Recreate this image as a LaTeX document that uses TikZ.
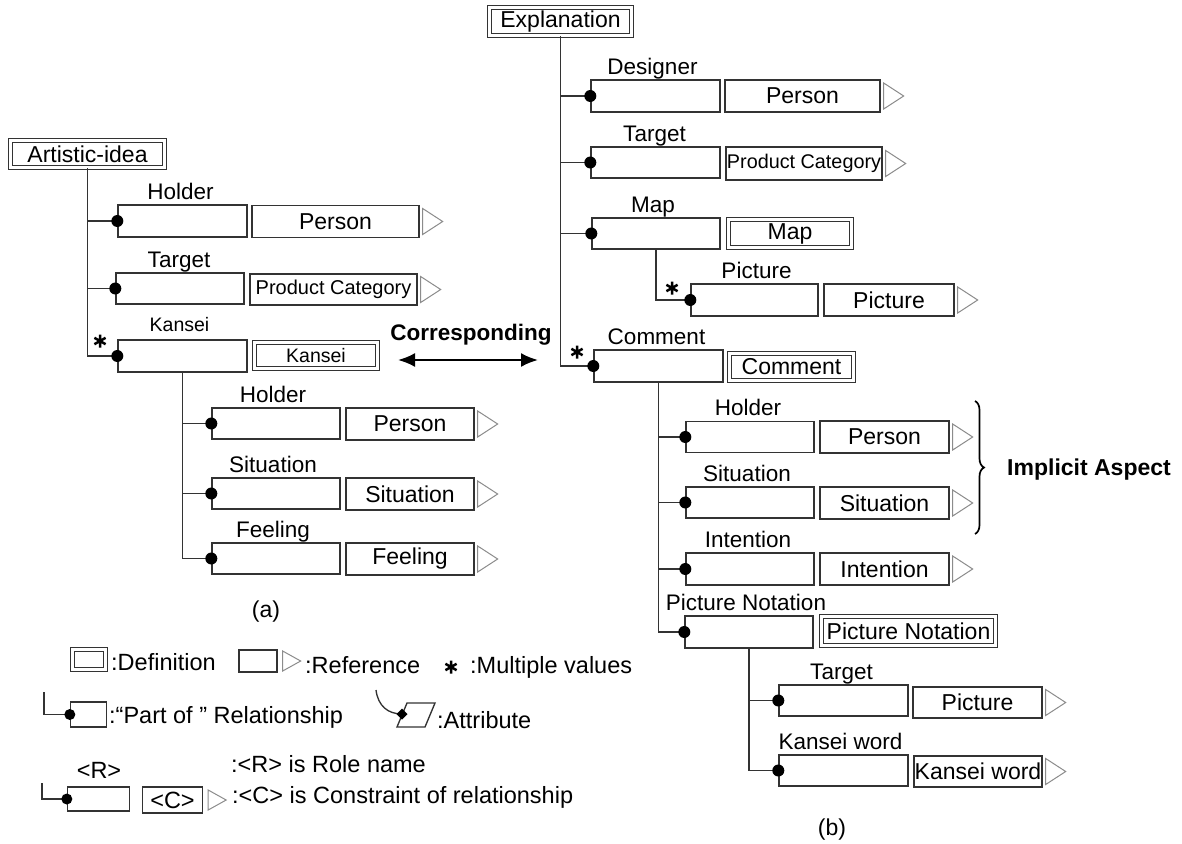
\documentclass[tikz,border=0pt]{standalone}
\usepackage{fontspec}
\setmainfont{Liberation Sans}
\usetikzlibrary{arrows.meta,decorations.pathreplacing}
\definecolor{linec}{HTML}{333333}
\definecolor{tric}{HTML}{8C8C8C}
\newcommand\tsz[1]{\fontsize{#1pt}{#1pt}\selectfont}

\begin{document}
\begin{tikzpicture}[x=1pt,y=-1pt,
  ln/.style={draw=linec, line width=1.35pt},
  rolebox/.style={ln, rectangle, inner sep=0pt, minimum width=129pt, minimum height=32pt},
  refbox/.style={ln, rectangle, inner sep=0pt, minimum height=32pt, font=\tsz{23}},
  defbox/.style={draw=linec, double, double distance=2.4pt, line width=1.3pt, rectangle,
                 inner sep=0pt, minimum height=28pt, font=\tsz{23}},
  rolelab/.style={anchor=base, inner sep=0pt, font=\tsz{22.5}},
  legtext/.style={anchor=west, inner sep=0pt, font=\tsz{23.5}},
  boldtext/.style={inner sep=0pt, font=\tsz{22.5}\bfseries},
  pdot/.style={fill=black},
  reftri/.pic={\draw[tric, line width=1pt] (3,-13) -- (23,0) -- (3,13) -- cycle;},
  reftrismall/.pic={\draw[tric, line width=1pt] (5,-10) -- (23,0) -- (5,10) -- cycle;},
  multi/.pic={\draw[black, line width=2.5pt] (0,-6.5) -- (0,6.5) (-5.6,-3.2) -- (5.6,3.2) (-5.6,3.2) -- (5.6,-3.2);},
]
\useasboundingbox (0,0) rectangle (1182,843);
\fill[white] (0,0) rectangle (1182,843);

% ---------------- (a) Artistic-idea ----------------
\node[defbox, minimum width=154pt, minimum height=27pt] (art) at (87.5,154) {Artistic-idea};

\node[rolebox] (r1) at (182.5,221) {};
\node[refbox, minimum width=167pt] (p1) at (335.5,221.5) {Person};
\node[rolelab] (l1) at ([xshift=-2pt,yshift=5pt]r1.north) {Holder};

\node[rolebox, minimum width=128pt, minimum height=31pt] (r2) at (180,288.5) {};
\node[refbox, minimum width=167pt, minimum height=31pt, font=\tsz{20}] (p2) at (333.5,289.5) {Product Category};
\node[rolelab] (l2) at ([xshift=-1pt,yshift=5pt]r2.north) {Target};

\node[rolebox] (r3) at (182.5,356) {};
\node[defbox, minimum width=123pt, minimum height=26pt, font=\tsz{19.5}] (k3) at (316,355.5) {Kansei};
\node[rolelab, font=\tsz{19.5}] (l3) at ([xshift=-3pt,yshift=8pt]r3.north) {Kansei};

\node[rolebox, minimum width=128pt, minimum height=31pt] (r4) at (276,423.5) {};
\node[refbox, minimum width=128pt] (p4) at (410,424) {Person};
\node[rolelab] (l4) at ([xshift=-3pt,yshift=5pt]r4.north) {Holder};

\node[rolebox, minimum width=128pt, minimum height=31pt] (r5) at (276,493.5) {};
\node[refbox, minimum width=128pt] (p5) at (410,494) {Situation};
\node[rolelab] (l5) at ([xshift=-3pt,yshift=5pt]r5.north) {Situation};

\node[rolebox, minimum width=128pt, minimum height=31pt] (r6) at (276,558.5) {};
\node[refbox, minimum width=128pt] (p6) at (410,559) {Feeling};
\node[rolelab] (l6) at ([xshift=-3pt,yshift=5pt]r6.north) {Feeling};

\foreach \p in {p1,p2,p4,p5,p6} \pic at (\p.east) {reftri};

\draw[ln] (art.south) |- (r1.west);
\draw[ln] (art.south) |- (r2.west);
\draw[ln] (art.south) |- (r3.west);
\draw[ln] (r3.south) |- (r4.west);
\draw[ln] (r3.south) |- (r5.west);
\draw[ln] (r3.south) |- (r6.west);
\foreach \r in {r1,r2,r3,r4,r5,r6} \fill[pdot] (\r.west) circle (6pt);
\pic at (100,341) {multi};

\node[inner sep=0pt, font=\tsz{23}] (capa) at (266,612) {(a)};

% ---------------- correspondence ----------------
\coordinate (ca) at (398,360);
\coordinate (cb) at (538,360);
\draw[black, line width=2.2pt, {Latex[length=17pt,width=14pt]}-{Latex[length=17pt,width=14pt]}] (ca) -- (cb);
\node[boldtext] (corr) at (471,335) {Corresponding};

% ---------------- (b) Explanation ----------------
\node[defbox, minimum width=142pt, minimum height=28pt] (ex) at (560.5,21.5) {Explanation};

\node[rolebox] (r7) at (655.5,96) {};
\node[refbox, minimum width=155pt] (p7) at (802.5,96) {Person};
\node[rolelab] (l7) at ([xshift=-3pt,yshift=5pt]r7.north) {Designer};

\node[rolebox, minimum height=31pt] (r8) at (655.5,162.5) {};
\node[refbox, minimum width=156pt, minimum height=33pt, font=\tsz{19.8}] (p8) at (804,163.5) {Product Category};
\node[rolelab] (l8) at ([xshift=-1pt,yshift=5pt]r8.north) {Target};

\node[rolebox, minimum width=128pt, minimum height=31pt] (r9) at (656,233.5) {};
\node[defbox, minimum width=123pt, minimum height=28pt] (m9) at (790,233.5) {Map};
\node[rolelab] (l9) at ([xshift=-3pt,yshift=5pt]r9.north) {Map};

\node[rolebox, minimum width=127pt] (r10) at (754.5,300) {};
\node[refbox, minimum width=130pt] (p10) at (889,300) {Picture};
\node[rolelab] (l10) at ([xshift=2pt,yshift=5pt]r10.north) {Picture};

\node[rolebox] (r11) at (658.5,366) {};
\node[defbox, minimum width=124pt, minimum height=27pt] (c11) at (791.5,367) {Comment};
\node[rolelab] (l11) at ([xshift=-2pt,yshift=5pt]r11.north) {Comment};

\node[rolebox, minimum width=128pt, minimum height=31pt] (r12) at (750,437) {};
\node[refbox, minimum width=129pt] (p12) at (884.5,437) {Person};
\node[rolelab] (l12) at ([xshift=-2pt,yshift=5pt]r12.north) {Holder};

\node[rolebox, minimum width=128pt, minimum height=31pt] (r13) at (750,502.5) {};
\node[refbox, minimum width=129pt] (p13) at (884.5,503) {Situation};
\node[rolelab] (l13) at ([xshift=-3pt,yshift=5pt]r13.north) {Situation};

\node[rolebox, minimum width=128pt] (r14) at (750,569) {};
\node[refbox, minimum width=129pt] (p14) at (884.5,569) {Intention};
\node[rolelab] (l14) at ([xshift=-2pt,yshift=5pt]r14.north) {Intention};

\node[rolebox, minimum width=128pt] (r15) at (749,632) {};
\node[defbox, minimum width=174pt, minimum height=29pt] (pn15) at (908.5,631) {Picture Notation};
\node[rolelab] (l15) at ([xshift=-3pt,yshift=5pt]r15.north) {Picture Notation};

\node[rolebox, minimum height=31pt] (r16) at (843.5,700.5) {};
\node[refbox, minimum width=129pt, minimum height=31pt] (p16) at (977.5,702.5) {Picture};
\node[rolelab] (l16) at ([xshift=-2pt,yshift=5pt]r16.north) {Target};

\node[rolebox, minimum height=31pt] (r17) at (843.5,770.5) {};
\node[refbox, minimum width=128pt, minimum height=31pt] (p17) at (978,771.5) {Kansei word};
\node[rolelab] (l17) at ([xshift=-3pt,yshift=5pt]r17.north) {Kansei word};

\foreach \p in {p7,p8,p10,p12,p13,p14,p16,p17} \pic at (\p.east) {reftri};

\draw[ln] (ex.south) |- (r7.west);
\draw[ln] (ex.south) |- (r8.west);
\draw[ln] (ex.south) |- (r9.west);
\draw[ln] (ex.south) |- (r11.west);
\draw[ln] (r9.south) |- (r10.west);
\draw[ln] (r11.south) |- (r12.west);
\draw[ln] (r11.south) |- (r13.west);
\draw[ln] (r11.south) |- (r14.west);
\draw[ln] (r11.south) |- (r15.west);
\draw[ln] (r15.south) |- (r16.west);
\draw[ln] (r15.south) |- (r17.west);
\foreach \r in {r7,r8,r9,r10,r11,r12,r13,r14,r15,r16,r17} \fill[pdot] (\r.west) circle (6pt);
\pic at (672,288) {multi};
\pic at (577,352) {multi};

% implicit aspect brace
\draw[black, line width=1.7pt, decorate, decoration={brace, amplitude=9pt}] (975,401) -- (975,534);
\node[boldtext, anchor=west, font=\tsz{23}\bfseries] (impl) at (1007,470) {Implicit Aspect};

\node[inner sep=0pt, font=\tsz{23}] (capb) at (832,830) {(b)};

% ---------------- legend ----------------
\node[defbox, minimum width=33pt, minimum height=20pt] (ldef) at (89,659.5) {};
\node[legtext] (tdef) at (111,662) {:Definition};

\node[rolebox, minimum width=38pt, minimum height=22pt] (lref) at (258,661) {};
\pic at (lref.east) {reftrismall};
\node[legtext] (tref) at (305,665) {:Reference};

\pic at (451,667) {multi};
\node[legtext] (tmul) at (470,667) {:Multiple values};

\coordinate (pa) at (44,692);
\node[rolebox, minimum width=36pt, minimum height=25pt] (lpo) at (88.5,714.5) {};
\draw[ln] (pa) |- (lpo.west);
\fill[pdot] (lpo.west) circle (5.5pt);
\node[legtext] (tpo) at (109,717) {:“Part of ” Relationship};

\coordinate (aa) at (376,690);
\coordinate (ad) at (402,714);
\draw[ln] (aa) .. controls (378,706) and (388,714) .. (ad);
\draw[ln] (407,703) -- (435,703) -- (425,727) -- (397,727) -- cycle;
\fill[pdot] ([xshift=-5.5pt]ad) -- ([yshift=5.5pt]ad) -- ([xshift=5.5pt]ad) -- ([yshift=-5.5pt]ad) -- cycle;
\node[legtext] (tattr) at (437,720) {:Attribute};

\node[inner sep=0pt, font=\tsz{23.5}] (tr) at (99,770) {<R>};
\coordinate (ra) at (42,783);
\node[rolebox, minimum width=62pt, minimum height=24pt] (lrole) at (98.5,799) {};
\draw[ln] (ra) |- (lrole.west);
\fill[pdot] (lrole.west) circle (5.5pt);
\node[refbox, minimum width=60pt, minimum height=26pt, font=\tsz{23.5}] (lcon) at (172.5,800) {<C>};
\pic at (lcon.east) {reftrismall};
\node[legtext] (trole) at (231,764) {:<R> is Role name};
\node[legtext] (tcon) at (232,797) {:<C> is Constraint of relationship};

\end{tikzpicture}
\end{document}
